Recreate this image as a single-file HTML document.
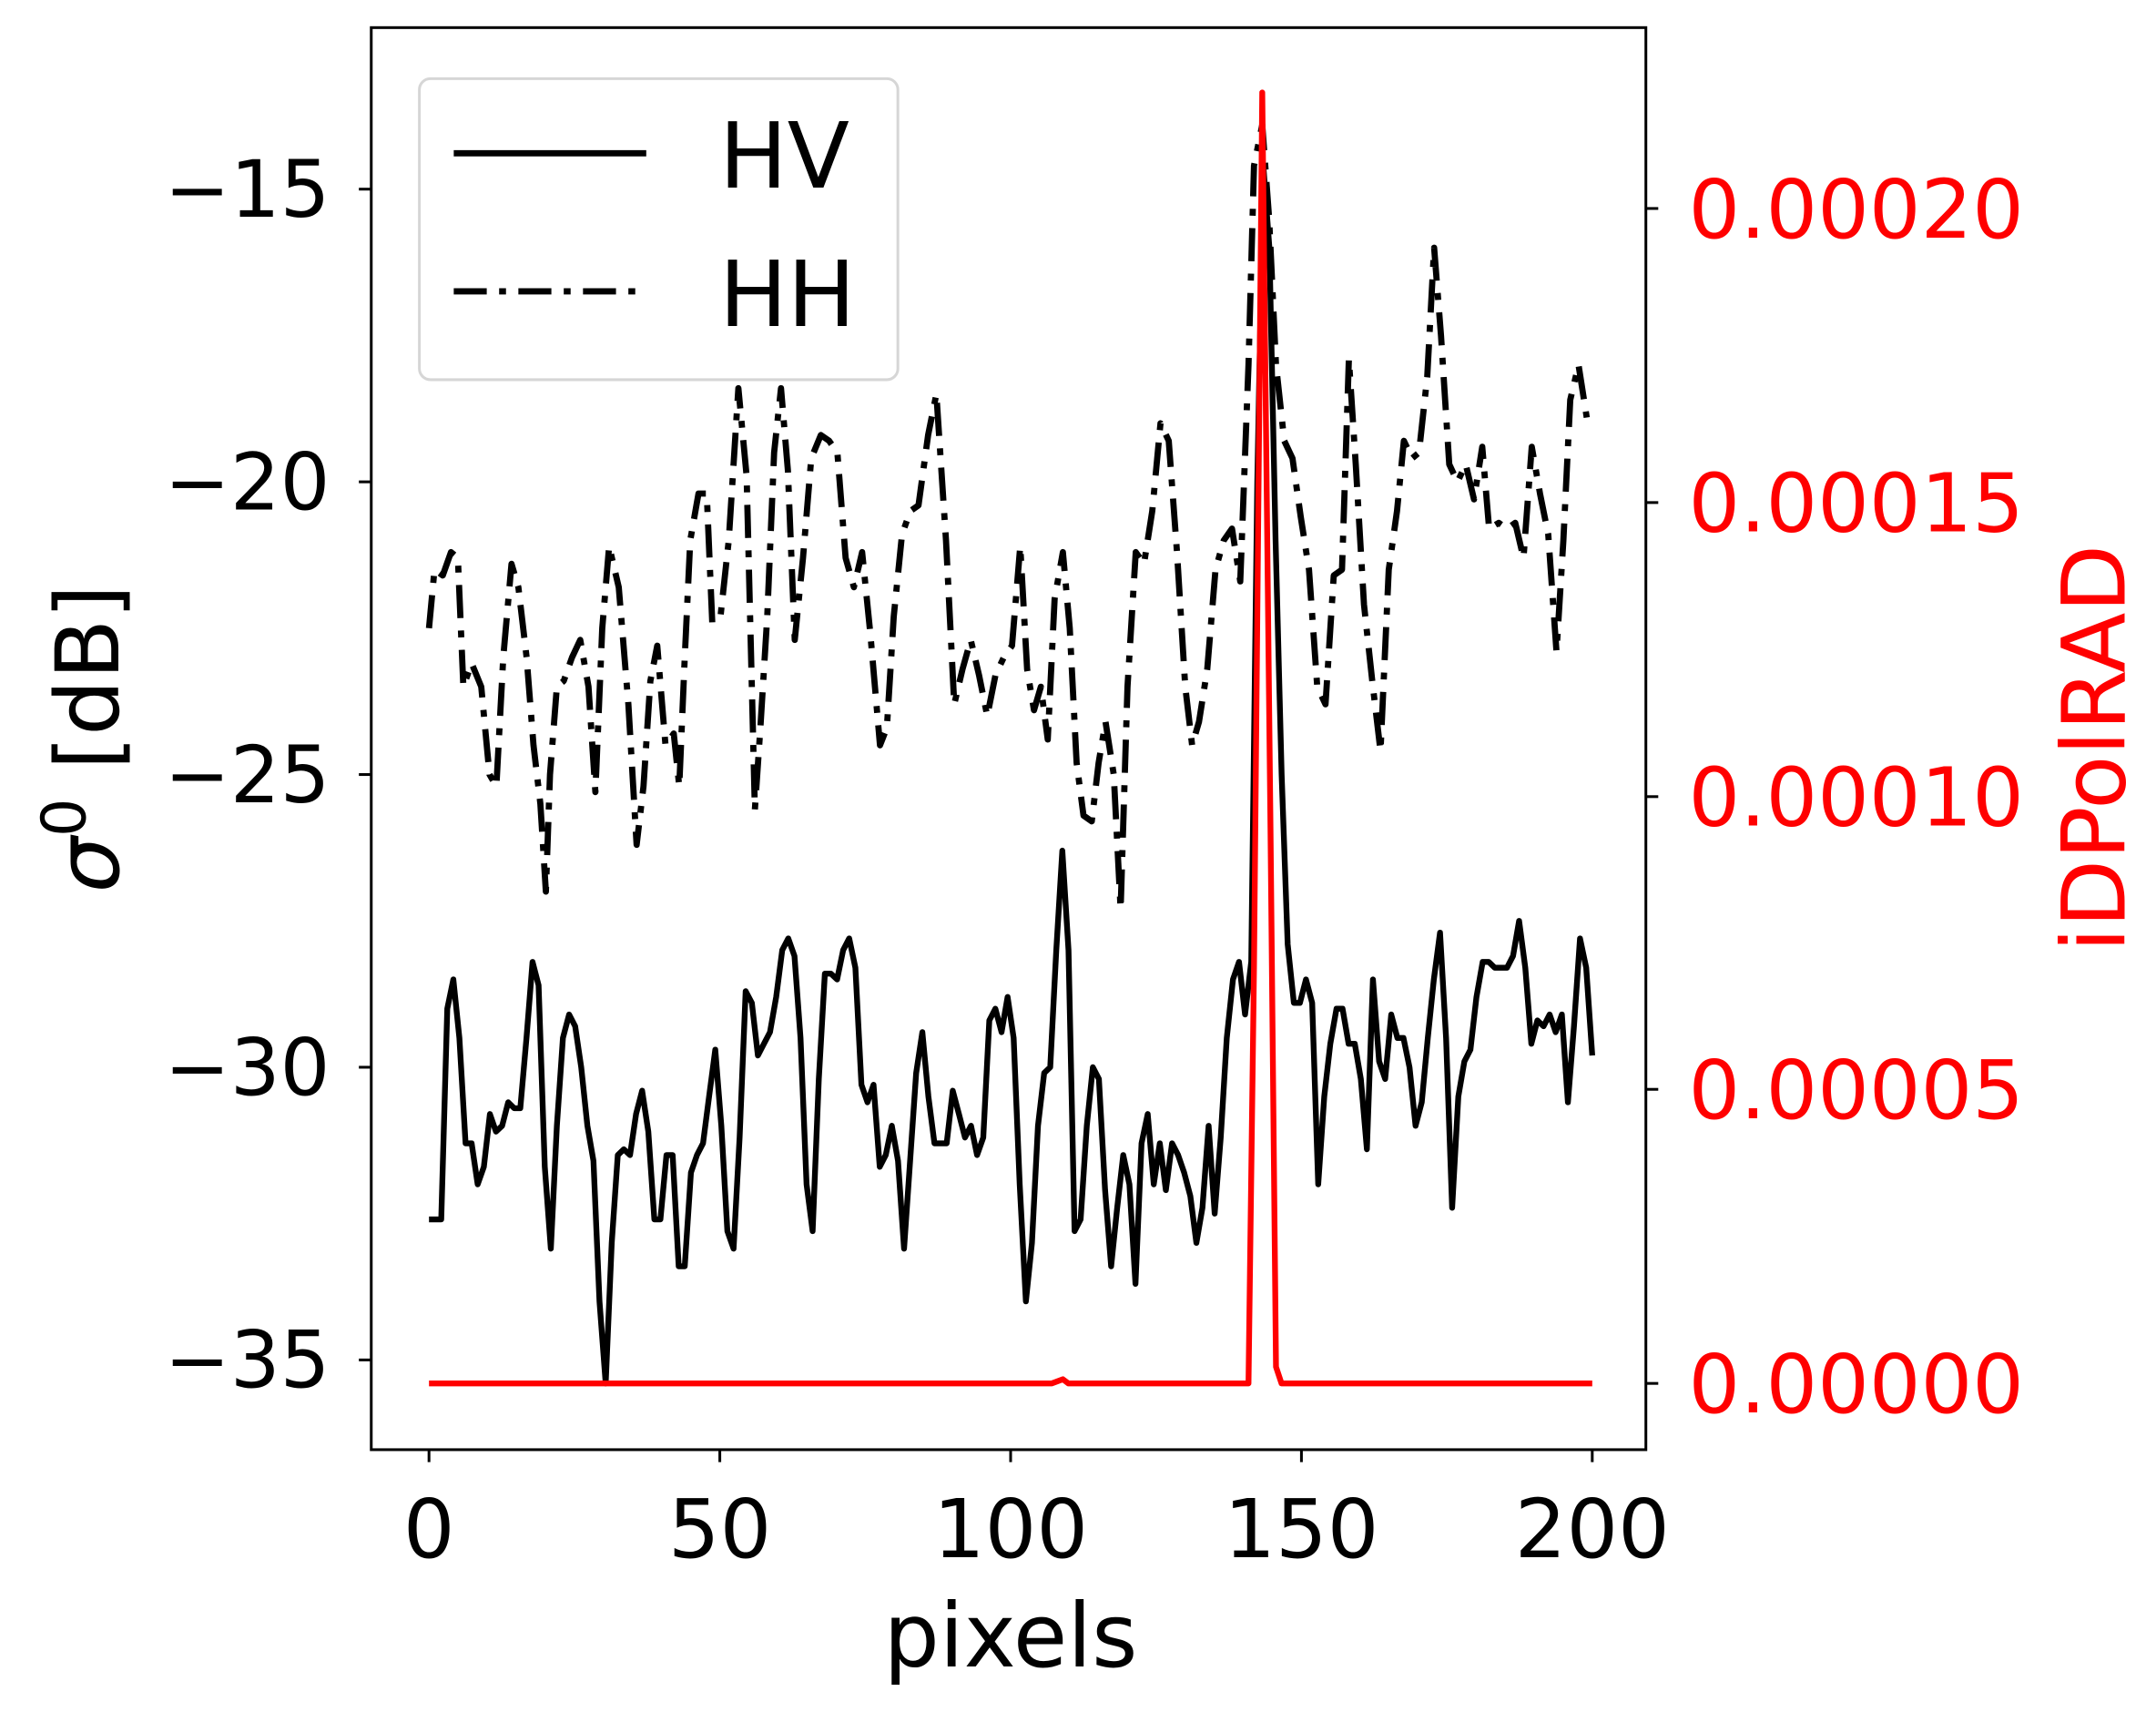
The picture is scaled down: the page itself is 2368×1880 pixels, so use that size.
<!DOCTYPE html>
<html><head><meta charset="utf-8"><style>html,body{margin:0;padding:0;background:#fff}svg{display:block}</style></head>
<body>
<svg id="s" width="2368" height="1880" viewBox="0 0 1568 1240" preserveAspectRatio="none" xmlns="http://www.w3.org/2000/svg" font-family="'DejaVu Sans','Liberation Sans',sans-serif">
<rect x="0" y="0" width="1568" height="1240" fill="#fff"/>
<g id="series"></g>
<rect x="270" y="20" width="927" height="1030" fill="none" stroke="#000" stroke-width="2"/>
<g stroke="#000" stroke-width="2">
<line x1="270" y1="137" x2="261" y2="137"/><line x1="270" y1="349" x2="261" y2="349"/><line x1="270" y1="561" x2="261" y2="561"/><line x1="270" y1="773" x2="261" y2="773"/><line x1="270" y1="985" x2="261" y2="985"/>
<line x1="312" y1="1050" x2="312" y2="1059"/><line x1="523.5" y1="1050" x2="523.5" y2="1059"/><line x1="735" y1="1050" x2="735" y2="1059"/><line x1="946.5" y1="1050" x2="946.5" y2="1059"/><line x1="1158" y1="1050" x2="1158" y2="1059"/>
<line x1="1197" y1="151" x2="1206" y2="151"/><line x1="1197" y1="364" x2="1206" y2="364"/><line x1="1197" y1="577" x2="1206" y2="577"/><line x1="1197" y1="789" x2="1206" y2="789"/><line x1="1197" y1="1002" x2="1206" y2="1002"/>
</g>
<g font-size="57" text-anchor="end" fill="#000">
<text x="240" y="157">−15</text><text x="240" y="369">−20</text><text x="240" y="581">−25</text><text x="240" y="793">−30</text><text x="240" y="1005">−35</text>
</g>
<g font-size="59" text-anchor="middle" fill="#000">
<text x="312" y="1128">0</text><text x="523.5" y="1128">50</text><text x="735" y="1128">100</text><text x="946.5" y="1128">150</text><text x="1158" y="1128">200</text>
<text x="735" y="1207" font-size="64">pixels</text>
</g>
<g font-size="59" fill="#f00">
<text x="1228" y="172">0.00020</text><text x="1228" y="385">0.00015</text><text x="1228" y="598">0.00010</text><text x="1228" y="810">0.00005</text><text x="1228" y="1023">0.00000</text>
<text transform="translate(1545,542) rotate(-90)" text-anchor="middle" font-size="64">iDPolRAD</text>
</g>
<text transform="translate(86,535) rotate(-90)" text-anchor="middle" font-size="64" fill="#000"><tspan font-style="italic">σ</tspan><tspan dy="-24" font-size="44">0</tspan><tspan dy="24"> [dB]</tspan></text>
<rect x="305" y="57" width="348" height="218" rx="8" fill="#fff" fill-opacity="0.85" stroke="#d6d6d6" stroke-width="2"/>
<line x1="330" y1="111" x2="470" y2="111" stroke="#000" stroke-width="4.5"/>
<line x1="330" y1="211" x2="470" y2="211" stroke="#000" stroke-width="4.5" stroke-dasharray="24,9,5,9"/>
<text x="523" y="136" font-size="66" fill="#000">HV</text>
<text x="523" y="236" font-size="66" fill="#000">HH</text>
</svg>
<script>
var hv=[-32.6,-32.6,-32.6,-29,-28.5,-29.5,-31.3,-31.3,-32,-31.7,-30.8,-31.1,-31,-30.6,-30.7,-30.7,-29.5,-28.2,-28.6,-31.7,-33.1,-31,-29.5,-29.1,-29.3,-30,-31,-31.6,-34,-35.4,-33,-31.5,-31.4,-31.5,-30.8,-30.4,-31.1,-32.6,-32.6,-31.5,-31.5,-33.4,-33.4,-31.8,-31.5,-31.3,-30.5,-29.7,-31,-32.8,-33.1,-31.2,-28.7,-28.9,-29.8,-29.6,-29.4,-28.8,-28,-27.8,-28.1,-29.5,-32,-32.8,-30.2,-28.4,-28.4,-28.5,-28,-27.8,-28.3,-30.3,-30.6,-30.3,-31.7,-31.5,-31,-31.6,-33.1,-31.6,-30.1,-29.4,-30.5,-31.3,-31.3,-31.3,-30.4,-30.8,-31.2,-31,-31.5,-31.2,-29.2,-29,-29.4,-28.8,-29.5,-32,-34,-33,-31,-30.1,-30,-28,-26.3,-28,-32.8,-32.6,-31,-30,-30.2,-32.1,-33.4,-32.4,-31.5,-32,-33.7,-31.3,-30.8,-32,-31.3,-32.1,-31.3,-31.5,-31.8,-32.2,-33,-32.4,-31,-32.5,-31.2,-29.5,-28.5,-28.2,-29.1,-28.2,-20,-14.6,-16,-21,-25,-27.9,-28.9,-28.9,-28.5,-28.9,-32,-30.5,-29.6,-29,-29,-29.6,-29.6,-30.2,-31.4,-28.5,-29.9,-30.2,-29.1,-29.5,-29.5,-30,-31,-30.6,-29.5,-28.5,-27.7,-29.5,-32.4,-30.5,-29.9,-29.7,-28.8,-28.2,-28.2,-28.3,-28.3,-28.3,-28.1,-27.5,-28.3,-29.6,-29.2,-29.3,-29.1,-29.4,-29.1,-30.6,-29.3,-27.8,-28.3,-29.8];
var hh=[312,-22.5,316,-21.5,322,-21.6,328,-21.2,333,-21.3,337,-23.5,343,-23.1,350,-23.5,356,-25,361,-25.2,366,-23,372,-21.4,377,-21.8,383,-23,388,-24.5,393,-25.5,397,-27,400,-25,405,-23.5,410,-23.4,416,-23,422,-22.7,428,-23.5,433,-25.3,438,-22.5,443,-21.1,450,-21.8,457,-23.8,463,-26.2,468,-25.2,473,-23.4,478,-22.8,484,-24.5,490,-24.3,494,-25.2,498,-23,502,-21,508,-20.2,514,-20.2,518,-22.4,524,-22.3,530,-21,537,-18.4,543,-19.9,549,-25.6,553,-24.2,558,-22.3,563,-19.5,568,-18.4,573,-19.8,578,-22.7,584,-21.3,590,-19.6,597,-19.2,603,-19.3,609,-19.5,615,-21.3,621,-21.8,627,-21.2,633,-22.6,640,-24.5,645,-24.2,650,-22.3,656,-20.9,662,-20.5,668,-20.4,675,-19.2,681,-18.5,688,-21,694,-23.8,700,-23.2,706,-22.7,712,-23.3,718,-24,724,-23.3,730,-23,736,-22.8,742,-21.1,747,-23.2,752,-23.9,757,-23.5,762,-24.4,767,-22,773,-21.2,778,-22.5,783,-24.8,788,-25.7,794,-25.8,799,-24.8,804,-24.1,810,-25,815,-27.3,820,-23.5,826,-21.2,832,-21.4,838,-20.5,844,-19,850,-19.3,856,-21.2,862,-23.5,867,-24.5,872,-24.1,878,-23.2,884,-21.5,890,-21,896,-20.8,902,-21.7,908,-18,912,-14.6,918,-13.9,923,-15.5,928,-18,934,-19.3,940,-19.6,946,-20.6,952,-21.5,958,-23.5,964,-23.8,970,-21.6,976,-21.5,981,-17.9,986,-19.7,992,-22.1,998,-23.4,1004,-24.6,1010,-21.5,1016,-20.5,1021,-19.3,1027,-19.6,1032,-19.5,1038,-18.2,1043,-16,1048,-17.5,1054,-19.7,1060,-20,1066,-19.7,1072,-20.3,1078,-19.4,1083,-20.8,1090,-20.7,1096,-20.8,1102,-20.7,1108,-21.3,1114,-19.4,1120,-20.2,1126,-20.9,1132,-22.9,1137,-21,1142,-18.6,1148,-18,1154,-18.9];
function Y(v){return 137+(-15-v)*42.4;}
var n=hv.length,p=[];
for(var i=0;i<n;i++){p.push((312+i*(846/(n-1))).toFixed(1)+','+Y(hv[i]).toFixed(1));}
var q=[];for(var j=0;j<hh.length;j+=2){q.push(hh[j]+','+Y(hh[j+1]).toFixed(1));}
var r='312,1002 765,1002 773,999 777,1002 908,1002 912,700 918,67 924,600 928,990 932,1002 1158,1002';
var g=document.getElementById('series');
g.innerHTML='<polyline points="'+q.join(' ')+'" fill="none" stroke="#000" stroke-width="4.5" stroke-dasharray="24,9,5,9" stroke-linejoin="round"/>'+
'<polyline points="'+p.join(' ')+'" fill="none" stroke="#000" stroke-width="4.2" stroke-linejoin="round"/>'+
'<polyline points="'+r+'" fill="none" stroke="#f00" stroke-width="4.2" stroke-linejoin="round"/>';
</script>
</body></html>
